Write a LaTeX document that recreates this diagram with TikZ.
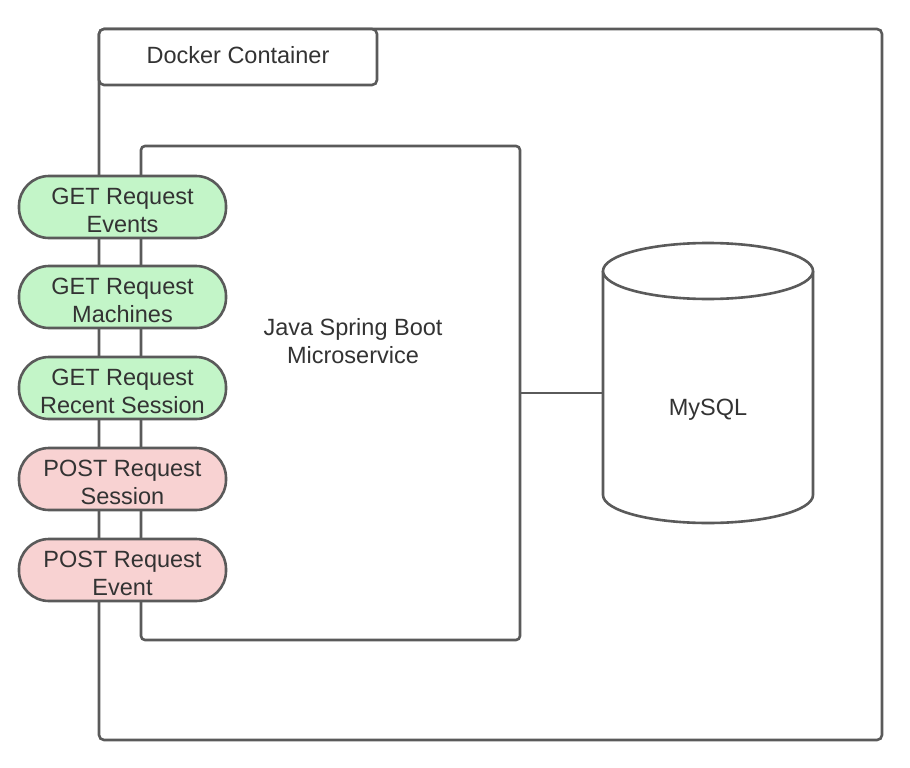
\documentclass[tikz,border=0pt]{standalone}
\usepackage{fontspec}
\setmainfont{Liberation Sans}
\definecolor{edge}{HTML}{5A5A5A}
\definecolor{txt}{HTML}{333333}
\definecolor{getfill}{HTML}{C3F5C8}
\definecolor{postfill}{HTML}{F8D2D2}
\begin{document}
\begin{tikzpicture}[x=1pt,y=-1pt,
  every node/.style={text=txt,font=\fontsize{23.5}{28}\selectfont},
  frame/.style={draw=edge,line width=2.6pt,rounded corners=5pt,fill=white},
  pill/.style={draw=edge,line width=2.6pt,rounded corners=30pt,minimum width=207pt,minimum height=62pt,inner sep=0pt},
  getpill/.style={pill,fill=getfill},
  postpill/.style={pill,fill=postfill},
  pilltext/.style={align=center,inner sep=0pt,yshift=-3.5pt},
  link/.style={draw=edge,line width=1.8pt}]
\useasboundingbox (0,0) rectangle (910,768);
% container
\draw[frame] (99,29) rectangle (882,740);
\node[frame,minimum width=278pt,minimum height=56pt,inner sep=0pt] (title) at (238,57) {};
\node (titletext) at (238,55) {Docker Container};
% Java box
\node[frame,rounded corners=4pt,minimum width=379pt,minimum height=494pt,inner sep=0pt] (java) at (330.5,393) {};
\node[align=center] (javatext) at (353,341) {Java Spring Boot\\Microservice};
% cylinder
\draw[draw=edge,line width=2.6pt,fill=white] (603,271) -- (603,495) arc[start angle=180,end angle=360,x radius=105,y radius=-28] -- (813,271);
\draw[draw=edge,line width=2.6pt,fill=white] (708,271) ellipse[x radius=105,y radius=28];
\node[minimum width=210pt,minimum height=260pt,inner sep=0pt] (db) at (708,393) {};
\node (dbtext) at (708,410) {MySQL};
\draw[link] (java.east) -- (db.west);
% pills
\node[getpill] (p1) at (122.5,207) {};
\node[pilltext] (t1) at (p1.center) {GET Request\\Events};
\node[getpill] (p2) at (122.5,297) {};
\node[pilltext] (t2) at (p2.center) {GET Request\\Machines};
\node[getpill] (p3) at (122.5,388) {};
\node[pilltext] (t3) at (p3.center) {GET Request\\Recent Session};
\node[postpill] (p4) at (122.5,479) {};
\node[pilltext] (t4) at (p4.center) {POST Request\\Session};
\node[postpill] (p5) at (122.5,570) {};
\node[pilltext] (t5) at (p5.center) {POST Request\\Event};
\end{tikzpicture}
\end{document}
